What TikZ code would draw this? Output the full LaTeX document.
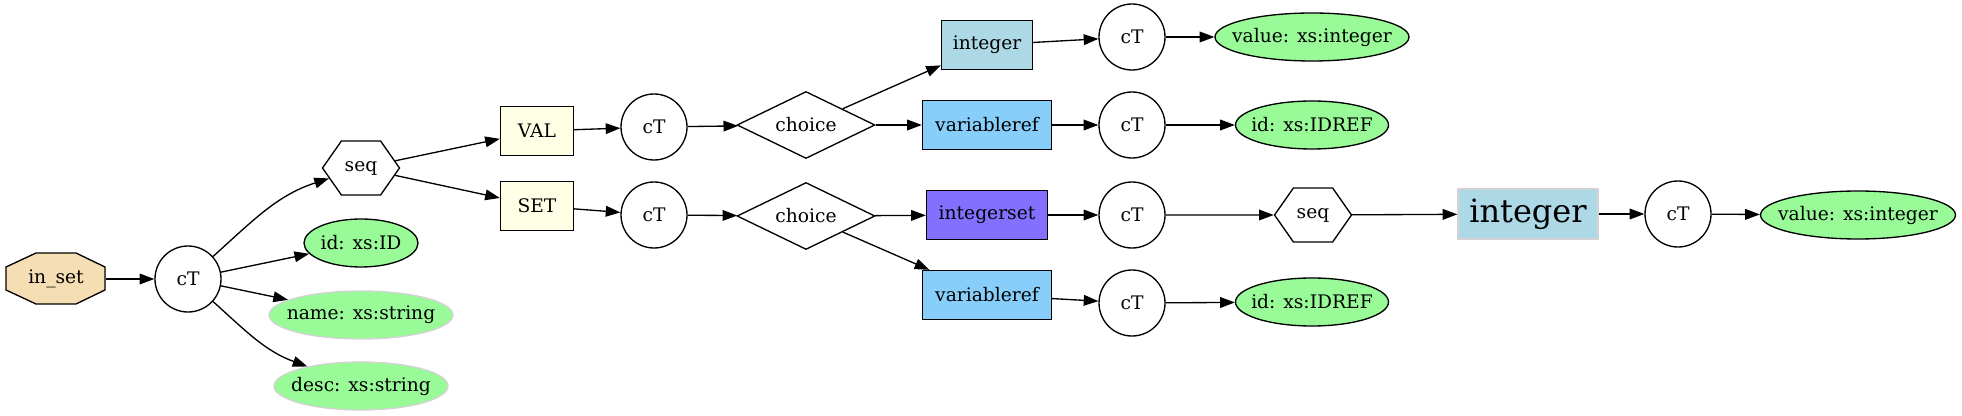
\documentclass[tikz,border=0pt]{standalone}
\usepackage{fontspec}
\setmainfont{DejaVu Serif}
\usepackage{xcolor}
\usepackage{tikz}
\usetikzlibrary{positioning,arrows.meta,shapes.geometric,shapes.symbols}
\definecolor{rootwheat}{HTML}{F5DEB3}
\definecolor{attrgreen}{HTML}{98FB98}
\definecolor{softgray}{HTML}{D3D3D3}
\definecolor{elemyellow}{HTML}{FFFFE6}
\definecolor{intblue}{HTML}{ADD8E6}
\definecolor{refblue}{HTML}{87CEFA}
\definecolor{setpurple}{HTML}{8470FF}
\newcommand\fixw[1]{\makebox[0pt]{#1}}

\begin{document}
\begin{tikzpicture}[x=0.75pt, y=-0.75pt, base/.style={draw=black, line width=1pt, inner sep=0pt, font=\fontsize{14}{16}\selectfont}, ctnode/.style={base, circle, minimum size=49.5pt}, attr/.style={base, ellipse, fill=attrgreen, minimum height=36pt}, softattr/.style={attr, draw=softgray}, elem/.style={base, rectangle, inner xsep=4pt, minimum height=36.75pt}, seqnode/.style={base, signal, signal to=east and west, signal pointer angle=110, minimum width=57.75pt, minimum height=40.5pt}, choicenode/.style={base, diamond, aspect=2, minimum width=103.5pt, minimum height=50.25pt}, rootnode/.style={base, draw=none, rectangle, minimum width=74.25pt, minimum height=38.25pt}, arrow/.style={-{Triangle[length=11pt,width=8pt]}, line width=1pt}]
\useasboundingbox (0,0) rectangle (1962,416);
\filldraw[fill=rootwheat, line width=1pt] (36,253) -- (76,253) -- (105,267) -- (105,290) -- (76,304) -- (36,304) -- (6,290) -- (6,267) -- cycle;
\node[rootnode] (inset) at (56,279) {in\_set};
\node[ctnode] (ct1) at (188,279) {cT};
\draw[arrow] (inset) -- (ct1);
\node[seqnode] (seqa) at (361,168) {seq};
\draw[arrow] (ct1) to[out=42,in=198] (seqa);
\node[attr, minimum width=85.5pt] (idattr) at (361,243) {\fixw{id: xs:ID}};
\draw[arrow] (ct1) -- (idattr);
\node[softattr, minimum width=138pt] (nameattr) at (361,315) {\fixw{name: xs:string}};
\draw[arrow] (ct1) -- (nameattr);
\node[softattr, minimum width=130.5pt] (descattr) at (361,386) {\fixw{desc: xs:string}};
\draw[arrow] (ct1) to[out=-42,in=160] (descattr);
\node[elem, fill=elemyellow, minimum width=54.75pt] (val) at (537,131) {VAL};
\draw[arrow] (seqa) -- (val);
\node[elem, fill=elemyellow, minimum width=54.75pt] (set) at (537,206) {SET};
\draw[arrow] (seqa) -- (set);
\node[ctnode] (ctval) at (654,127) {cT};
\draw[arrow] (val) -- (ctval);
\node[ctnode] (ctset) at (654,215) {cT};
\draw[arrow] (set) -- (ctset);
\node[choicenode] (choicea) at (806,125) {choice};
\draw[arrow] (ctval) -- (choicea);
\node[choicenode] (choiceb) at (806,216) {choice};
\draw[arrow] (ctset) -- (choiceb);
\node[elem, fill=intblue, minimum width=68.25pt] (intval) at (987,45) {integer};
\draw[arrow] (choicea) -- (intval);
\node[elem, fill=refblue, minimum width=96.75pt] (varrefa) at (987,125) {variableref};
\draw[arrow] (choicea) -- (varrefa);
\node[elem, fill=setpurple, minimum width=90.75pt] (intset) at (987,215) {integerset};
\draw[arrow] (choiceb) -- (intset);
\node[elem, fill=refblue, minimum width=96.75pt] (varrefb) at (987,295) {variableref};
\draw[arrow] (choiceb) -- (varrefb);
\node[ctnode] (ctint) at (1132,37) {cT};
\draw[arrow] (intval) -- (ctint);
\node[ctnode] (ctvara) at (1132,125) {cT};
\draw[arrow] (varrefa) -- (ctvara);
\node[ctnode] (ctintset) at (1132,215) {cT};
\draw[arrow] (intset) -- (ctintset);
\node[ctnode] (ctvarb) at (1132,303) {cT};
\draw[arrow] (varrefb) -- (ctvarb);
\node[attr, minimum width=145.5pt] (valueint) at (1312,37) {\fixw{value: xs:integer}};
\draw[arrow] (ctint) -- (valueint);
\node[attr, minimum width=114.75pt] (idrefa) at (1312,125) {\fixw{id: xs:IDREF}};
\draw[arrow] (ctvara) -- (idrefa);
\node[seqnode] (seqb) at (1313,215) {seq};
\draw[arrow] (ctintset) -- (seqb);
\node[attr, minimum width=114.75pt] (idrefb) at (1312,302) {\fixw{id: xs:IDREF}};
\draw[arrow] (ctvarb) -- (idrefb);
\node[elem, fill=intblue, draw=softgray, minimum width=105pt, minimum height=37.5pt, font=\fontsize{24}{28}\selectfont] (intbig) at (1528,214) {integer};
\draw[arrow] (seqb) -- (intbig);
\node[ctnode] (ctbig) at (1678,214) {cT};
\draw[arrow] (intbig) -- (ctbig);
\node[attr, minimum width=146.25pt] (valuebig) at (1858,215) {\fixw{value: xs:integer}};
\draw[arrow] (ctbig) -- (valuebig);
\end{tikzpicture}
\end{document}
